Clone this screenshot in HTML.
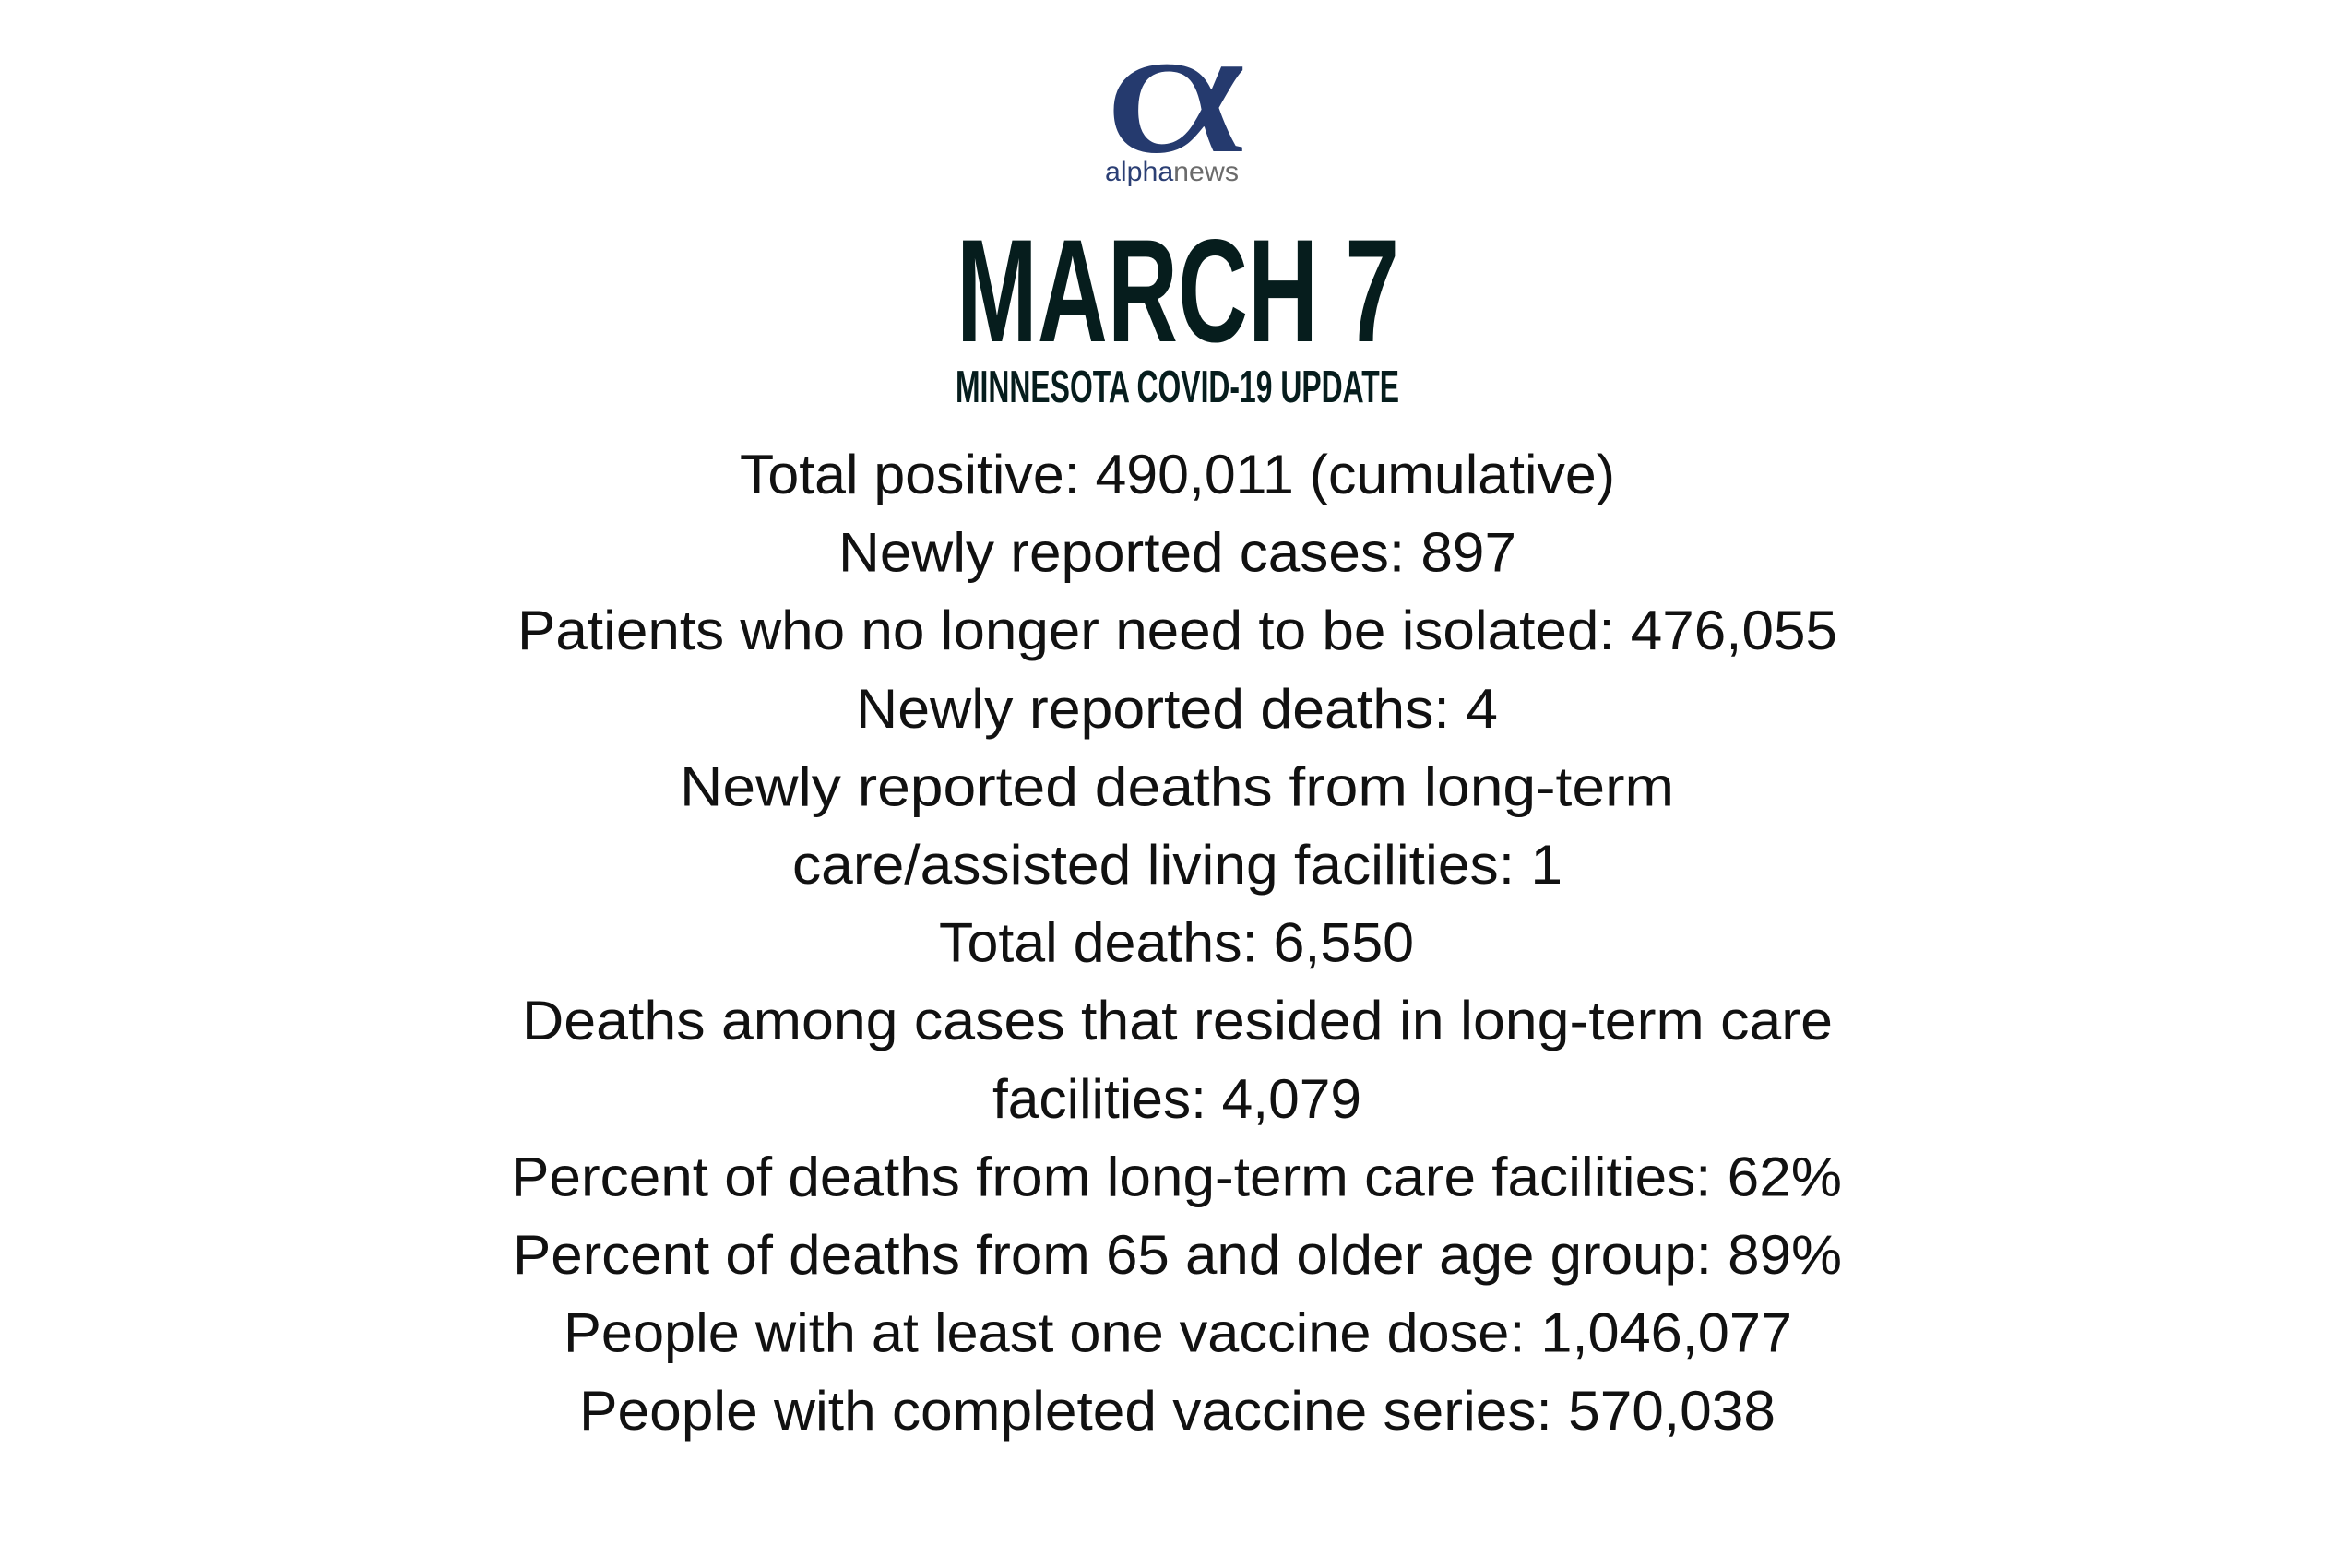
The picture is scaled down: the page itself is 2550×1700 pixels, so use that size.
<!DOCTYPE html>
<html><head><meta charset="utf-8"><style>
html,body{margin:0;padding:0;background:#fff;}
svg{display:block;}
.b{font-family:"Liberation Sans",sans-serif;font-size:60px;fill:#111;text-anchor:start;}
.t{font-family:"Liberation Sans Narrow","Liberation Sans",sans-serif;font-weight:bold;fill:#061d1d;}
</style></head><body>
<svg width="2550" height="1700" viewBox="0 0 2550 1700" xmlns="http://www.w3.org/2000/svg">
<rect width="2550" height="1700" fill="#fff"/>
<text x="1196" y="164" font-family="Liberation Serif,serif" font-size="200" fill="#253a6e" textLength="158" lengthAdjust="spacingAndGlyphs">α</text>
<text x="1198" y="196" font-family="Liberation Sans,sans-serif" font-size="30" textLength="145" lengthAdjust="spacingAndGlyphs"><tspan fill="#2b3f74">alpha</tspan><tspan fill="#6b6b6b">news</tspan></text>
<text class="t" x="1037" y="370" font-size="159" textLength="480" lengthAdjust="spacingAndGlyphs">MARCH 7</text>
<text class="t" x="1036" y="436" font-size="49" textLength="481" lengthAdjust="spacingAndGlyphs">MINNESOTA COVID-19 UPDATE</text>
<g class="b" transform="translate(0,-5)">
<text x="802" y="540" textLength="949" lengthAdjust="spacingAndGlyphs">Total positive: 490,011 (cumulative)</text>
<text x="909" y="624.6" textLength="735" lengthAdjust="spacingAndGlyphs">Newly reported cases: 897</text>
<text x="561" y="709.2" textLength="1431" lengthAdjust="spacingAndGlyphs">Patients who no longer need to be isolated: 476,055</text>
<text x="928" y="793.8" textLength="696" lengthAdjust="spacingAndGlyphs">Newly reported deaths: 4</text>
<text x="737" y="878.4" textLength="1078" lengthAdjust="spacingAndGlyphs">Newly reported deaths from long-term</text>
<text x="859" y="963" textLength="835" lengthAdjust="spacingAndGlyphs">care/assisted living facilities: 1</text>
<text x="1018" y="1047.6" textLength="515" lengthAdjust="spacingAndGlyphs">Total deaths: 6,550</text>
<text x="566" y="1132.2" textLength="1421" lengthAdjust="spacingAndGlyphs">Deaths among cases that resided in long-term care</text>
<text x="1076" y="1216.8" textLength="400" lengthAdjust="spacingAndGlyphs">facilities: 4,079</text>
<text x="554" y="1301.4" textLength="1443" lengthAdjust="spacingAndGlyphs">Percent of deaths from long-term care facilities: 62%</text>
<text x="556" y="1386" textLength="1441" lengthAdjust="spacingAndGlyphs">Percent of deaths from 65 and older age group: 89%</text>
<text x="611" y="1470.6" textLength="1332" lengthAdjust="spacingAndGlyphs">People with at least one vaccine dose: 1,046,077</text>
<text x="628" y="1555.2" textLength="1297" lengthAdjust="spacingAndGlyphs">People with completed vaccine series: 570,038</text>
</g>
</svg>
</body></html>
